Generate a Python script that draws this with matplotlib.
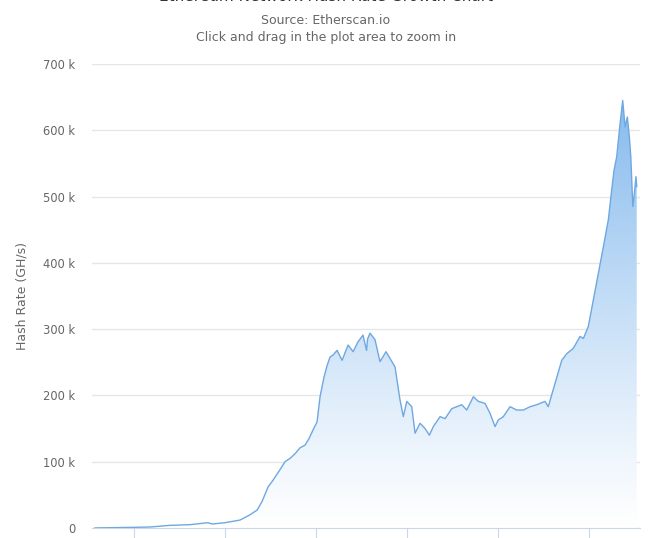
import numpy as np
import matplotlib
matplotlib.use("Agg")
import matplotlib.pyplot as plt
from matplotlib.colors import LinearSegmentedColormap

# time as decimal year, hash rate in k GH/s
year = [2015.571, 2016.000, 2016.176, 2016.396, 2016.615, 2016.813, 2016.857, 2017.000,
        2017.165, 2017.275, 2017.352, 2017.407, 2017.473, 2017.527, 2017.604, 2017.659,
        2017.714, 2017.769, 2017.824, 2017.879, 2017.923, 2017.967, 2018.011, 2018.044,
        2018.088, 2018.121, 2018.154, 2018.187, 2018.231, 2018.286, 2018.352, 2018.407,
        2018.462, 2018.516, 2018.555, 2018.566, 2018.593, 2018.648, 2018.703, 2018.769,
        2018.868, 2018.923, 2018.959, 2018.997, 2019.052, 2019.088, 2019.143, 2019.198,
        2019.245, 2019.289, 2019.363, 2019.418, 2019.491, 2019.601, 2019.656, 2019.729,
        2019.784, 2019.857, 2019.912, 2019.967, 2020.003, 2020.058, 2020.132, 2020.205,
        2020.278, 2020.352, 2020.425, 2020.516, 2020.552, 2020.626, 2020.700, 2020.755,
        2020.827, 2020.901, 2020.938, 2020.992, 2021.047, 2021.102, 2021.157, 2021.212,
        2021.249, 2021.275, 2021.304, 2021.341, 2021.370, 2021.396, 2021.421, 2021.443,
        2021.459, 2021.481, 2021.498, 2021.516, 2021.524]
hash_k = [0.1, 1, 1.5, 4, 5, 8, 6, 8,
          12, 20, 27, 40, 62, 72, 88, 100,
          105, 112, 121, 125, 135, 148, 160, 198,
          228, 245, 258, 261, 268, 253, 276, 266,
          281, 291, 268, 285, 294, 284, 251, 266,
          243, 193, 168, 191, 183, 143, 158, 150,
          140, 153, 168, 165, 180, 186, 178, 198,
          191, 188, 173, 153, 163, 168, 183, 178,
          178, 183, 186, 191, 183, 218, 253, 263,
          271, 289, 286, 304, 344, 384, 424, 465,
          510, 540, 560, 610, 645, 605, 620, 590,
          560, 485, 505, 530, 515]
yticks = [0, 100000, 200000, 300000, 400000, 500000, 600000, 700000]
ylabels = ["0", "100 k", "200 k", "300 k", "400 k", "500 k", "600 k", "700 k"]
xticks = [2016, 2017, 2018, 2019, 2020, 2021]

x = np.array(year)
y = np.array(hash_k) * 1000

fig = plt.figure(figsize=(6.52, 5.38), dpi=100)
ax = fig.add_axes([92/652, 10/538, 548/652, 464/538])

xmin, xmax = 2015.538, 2021.560
ax.set_xlim(xmin, xmax)
ax.set_ylim(0, 700000)

# gradient fill under the line
cmap = LinearSegmentedColormap.from_list("g", ["#ffffff", "#7cb5ec"])
grad = np.linspace(0, 1, 256).reshape(-1, 1) ** 1.1
poly = ax.fill_between(x, 0, y, color="none")
img = ax.imshow(grad, cmap=cmap, aspect="auto", origin="lower",
                extent=[xmin, xmax, 0, 700000], vmin=0, vmax=1, zorder=1)
img.set_clip_path(poly.get_paths()[0], transform=ax.transData)
ax.plot(x, y, color="#6fa8e0", lw=1.0, zorder=3)

ax.set_yticks(yticks)
ax.set_yticklabels(ylabels)
ax.set_xticks(xticks)
ax.set_xticklabels([])
ax.grid(axis="y", color="#e6e6e6", lw=1)
ax.set_axisbelow(True)
for s in ["top", "right", "left"]:
    ax.spines[s].set_visible(False)
ax.spines["bottom"].set_color("#ccd6eb")
ax.tick_params(axis="x", length=10, color="#ccd6eb", direction="out")
ax.tick_params(axis="y", length=0, labelsize=8.3, labelcolor="#666666", pad=12)
ax.set_ylabel("Hash Rate (GH/s)", fontsize=9, color="#666666")
ax.yaxis.set_label_coords(-63/548, 0.5)

# title is cropped at the top edge in the reference
fig.text(0.5, 1 - 1.0/538, "Ethereum Network Hash Rate Growth Chart", ha="center",
         va="baseline", fontsize=11, color="#333333")
fig.text(0.5, 1 - 21/538, "Source: Etherscan.io", ha="center", va="center",
         fontsize=9, color="#666666")
fig.text(0.5, 1 - 38/538, "Click and drag in the plot area to zoom in", ha="center",
         va="center", fontsize=9, color="#666666")

fig.savefig("out.png", dpi=100)
